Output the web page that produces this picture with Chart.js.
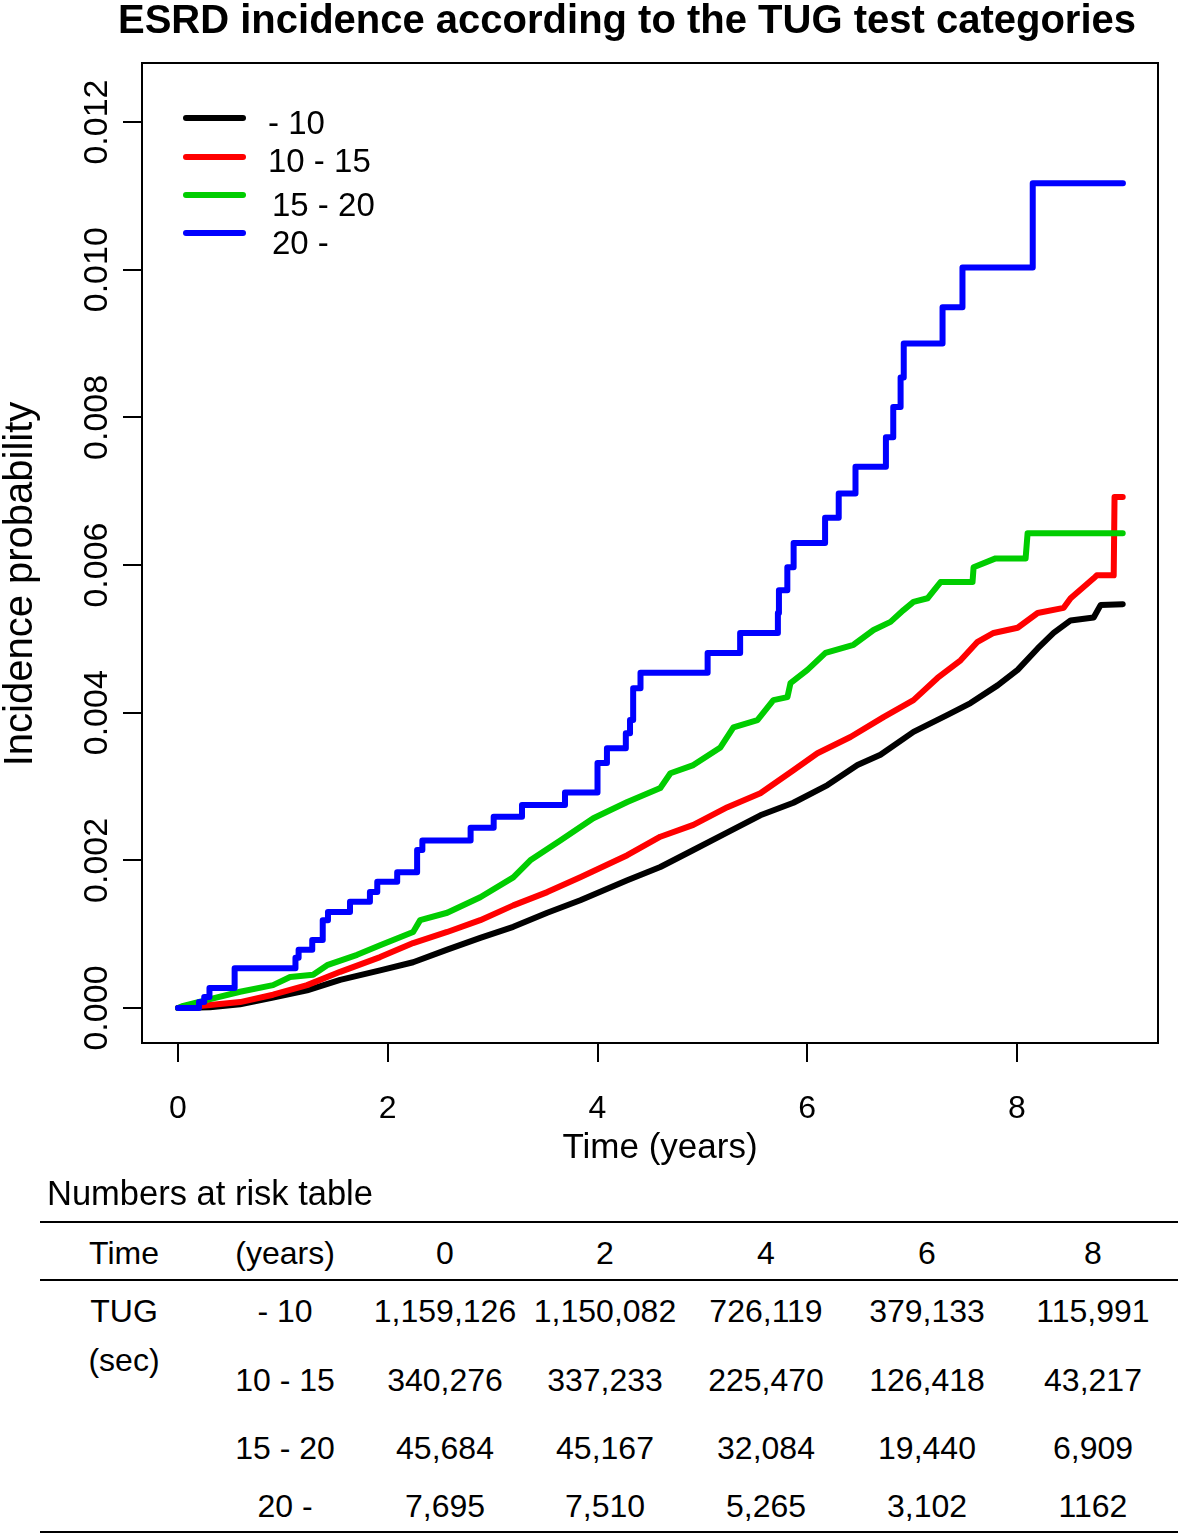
<!DOCTYPE html>
<html>
<head>
<meta charset="utf-8">
<title>ESRD incidence according to the TUG test categories</title>
<script src="https://cdn.jsdelivr.net/npm/chart.js@4.4.1/dist/chart.umd.min.js"></script>
<style>
  body { margin: 0; background: #fff; font-family: "Liberation Sans", Arial, Helvetica, sans-serif; color: #000; }
  #page { position: relative; width: 1181px; height: 1537px; overflow: hidden; }
  #chartTitle { position: absolute; left: 0; top: -1px; width: 1254px; text-align: center; font-weight: bold; font-size: 40px; line-height: 40px; white-space: nowrap; }
  canvas { position: absolute; left: 0; top: 0; }
  .cell { position: absolute; transform: translate(-50%, -50%); font-size: 32px; line-height: 32px; white-space: nowrap; }
  .rule { position: absolute; left: 40px; width: 1138px; height: 0; border-top: 2px solid #000; }
  #riskTitle { position: absolute; left: 47px; top: 1176px; font-size: 34.5px; line-height: 34.5px; white-space: nowrap; }
</style>
</head>
<body>
<div id="page">
  <canvas id="incidenceChart" width="1181" height="1175"></canvas>
  <div id="chartTitle">ESRD incidence according to the TUG test categories</div>
  <div id="riskTitle">Numbers at risk table</div>
  <div id="riskTable"></div>
</div>
<script>
// Data
const tugGroups = ["- 10", "10 - 15", "15 - 20", "20 -"]
const groupColors = ["#000000", "#ff0000", "#00cd00", "#0000ff"]

const xTicks = [0, 2, 4, 6, 8]
const yTicks = [0, 0.002, 0.004, 0.006, 0.008, 0.01, 0.012]

// TUG - 10
const timeG1 = [0, 0.305, 0.592, 0.906, 1.231, 1.546, 1.927, 2.242, 2.567, 2.882, 3.197, 3.521, 3.836, 4.284, 4.599, 4.914, 5.239, 5.553, 5.868, 6.193, 6.479, 6.698, 7.013, 7.338, 7.557, 7.815, 8.006, 8.197, 8.349, 8.511, 8.731, 8.798, 9.008]
const probG1 = [0, 0.00001, 0.00005, 0.00014, 0.00024, 0.00038, 0.00051, 0.00062, 0.00079, 0.00095, 0.0011, 0.00129, 0.00146, 0.00173, 0.00191, 0.00214, 0.00238, 0.00261, 0.00278, 0.00302, 0.00329, 0.00343, 0.00374, 0.00397, 0.00413, 0.00437, 0.00458, 0.00487, 0.00508, 0.00525, 0.00529, 0.00546, 0.00547]

// TUG 10 - 15
const timeG2 = [0, 0.305, 0.592, 0.906, 1.231, 1.546, 1.927, 2.242, 2.567, 2.882, 3.197, 3.521, 3.836, 4.284, 4.599, 4.914, 5.239, 5.553, 5.868, 6.097, 6.412, 6.727, 7.013, 7.242, 7.462, 7.624, 7.777, 8.006, 8.197, 8.445, 8.511, 8.731, 8.76, 8.922, 8.93, 9.008]
const probG2 = [0, 0.00004, 0.00008, 0.00018, 0.00031, 0.00049, 0.00069, 0.00088, 0.00103, 0.00119, 0.00139, 0.00157, 0.00177, 0.00207, 0.00232, 0.00248, 0.00272, 0.00291, 0.00322, 0.00345, 0.00367, 0.00394, 0.00417, 0.00447, 0.00471, 0.00496, 0.00508, 0.00515, 0.00535, 0.00542, 0.00555, 0.00582, 0.00586, 0.00586, 0.00692, 0.00692]

// TUG 15 - 20
const timeG3 = [0, 0.05, 0.277, 0.592, 0.906, 1.069, 1.288, 1.422, 1.708, 1.927, 2.242, 2.309, 2.567, 2.882, 3.197, 3.359, 3.645, 3.96, 4.284, 4.599, 4.695, 4.914, 5.172, 5.296, 5.525, 5.677, 5.811, 5.84, 6.002, 6.174, 6.441, 6.632, 6.794, 6.918, 7.013, 7.147, 7.271, 7.576, 7.586, 7.796, 8.082, 8.101, 9.008]
const probG3 = [0, 0.00003, 0.00011, 0.00022, 0.00031, 0.00042, 0.00045, 0.00058, 0.00072, 0.00085, 0.00103, 0.00119, 0.00129, 0.0015, 0.00177, 0.002, 0.00227, 0.00257, 0.00279, 0.00298, 0.00318, 0.00329, 0.00353, 0.0038, 0.0039, 0.00417, 0.00421, 0.0044, 0.00458, 0.00481, 0.00492, 0.00512, 0.00523, 0.00539, 0.0055, 0.00555, 0.00577, 0.00577, 0.00597, 0.00609, 0.00609, 0.00643, 0.00643]

// TUG 20 - (step function, value holds until next time)
const timeG4 = [0, 0.2, 0.25, 0.3, 0.54, 1.12, 1.15, 1.28, 1.38, 1.43, 1.64, 1.83, 1.9, 2.09, 2.28, 2.33, 2.79, 3.01, 3.28, 3.69, 4.0, 4.09, 4.27, 4.31, 4.34, 4.41, 5.05, 5.36, 5.72, 5.73, 5.81, 5.87, 6.17, 6.3, 6.46, 6.75, 6.82, 6.89, 6.92, 7.29, 7.48, 8.15, 9.01]
const probG4 = [0, 0.00008, 0.00015, 0.00027, 0.00054, 0.00068, 0.00079, 0.00092, 0.00119, 0.0013, 0.00144, 0.00157, 0.00171, 0.00184, 0.00214, 0.00227, 0.00244, 0.00259, 0.00275, 0.00292, 0.00332, 0.00352, 0.00372, 0.0039, 0.00433, 0.00454, 0.00481, 0.00508, 0.00535, 0.00566, 0.00597, 0.0063, 0.00664, 0.00697, 0.00733, 0.00773, 0.00814, 0.00854, 0.009, 0.00949, 0.01003, 0.01117, 0.01117]

// Numbers at risk
const riskTimes = ["0", "2", "4", "6", "8"]
const riskG1 = ["1,159,126", "1,150,082", "726,119", "379,133", "115,991"]
const riskG2 = ["340,276", "337,233", "225,470", "126,418", "43,217"]
const riskG3 = ["45,684", "45,167", "32,084", "19,440", "6,909"]
const riskG4 = ["7,695", "7,510", "5,265", "3,102", "1162"]

const fontFamily = "'Liberation Sans', Arial, Helvetica, sans-serif"

function toPoints(times, probs) {
  return times.map((t, i) => ({ x: t, y: probs[i] }))
}

// Box, rotated y labels, axis titles and legend
const decorPlugin = {
  id: "decor",
  afterDraw(chart) {
    const { ctx, chartArea, scales } = chart
    ctx.save()
    ctx.strokeStyle = "#000"
    ctx.lineWidth = 2
    ctx.strokeRect(chartArea.left, chartArea.top, chartArea.right - chartArea.left, chartArea.bottom - chartArea.top)

    ctx.fillStyle = "#000"
    ctx.textAlign = "center"
    ctx.textBaseline = "alphabetic"

    // y tick labels, rotated like base R
    ctx.font = `34px ${fontFamily}`
    yTicks.forEach((v) => {
      const py = scales.y.getPixelForValue(v)
      ctx.save()
      ctx.translate(107, py)
      ctx.rotate(-Math.PI / 2)
      ctx.fillText(v.toFixed(3), 0, 0)
      ctx.restore()
    })

    // y axis title
    ctx.font = `40px ${fontFamily}`
    ctx.save()
    ctx.translate(32, 584)
    ctx.rotate(-Math.PI / 2)
    ctx.fillText("Incidence probability", 0, 0)
    ctx.restore()

    // x axis title
    ctx.font = `35px ${fontFamily}`
    ctx.fillText("Time (years)", 660, 1158)

    // legend
    ctx.textAlign = "left"
    ctx.textBaseline = "middle"
    ctx.font = `33px ${fontFamily}`
    ctx.lineCap = "round"
    ctx.lineWidth = 6
    const lineY = [118, 157, 195, 233]
    const textY = [125, 163, 207, 245]
    const textX = [268, 268, 272, 272]
    chart.data.datasets.forEach((ds, i) => {
      ctx.strokeStyle = ds.borderColor
      ctx.beginPath()
      ctx.moveTo(186, lineY[i])
      ctx.lineTo(243, lineY[i])
      ctx.stroke()
      ctx.fillText(ds.label, textX[i], textY[i])
    })
    ctx.restore()
  },
}

// Chart Configuration
const ctx = document.getElementById("incidenceChart").getContext("2d")

const seriesTimes = [timeG1, timeG2, timeG3, timeG4]
const seriesProbs = [probG1, probG2, probG3, probG4]

const incidenceChart = new Chart(ctx, {
  type: "line",
  data: {
    datasets: tugGroups.map((label, i) => ({
      label: label,
      data: toPoints(seriesTimes[i], seriesProbs[i]),
      borderColor: groupColors[i],
      borderWidth: 6,
      pointRadius: 0,
      tension: 0,
      stepped: i === 3 ? "before" : false,
      borderCapStyle: "round",
      borderJoinStyle: "round",
      fill: false,
      order: 3 - i,
    })),
  },
  options: {
    responsive: false,
    animation: false,
    events: [],
    layout: {
      padding: { left: 0, right: 23, top: 63, bottom: 0 },
    },
    plugins: {
      legend: { display: false },
      tooltip: { enabled: false },
      title: { display: false },
    },
    scales: {
      x: {
        type: "linear",
        min: -0.3433,
        max: 9.3444,
        afterBuildTicks: (scale) => {
          scale.ticks = xTicks.map((v) => ({ value: v }))
        },
        afterFit: (scale) => {
          scale.height = 132
        },
        border: { display: false },
        grid: {
          drawOnChartArea: false,
          drawTicks: true,
          tickLength: 19,
          color: "#000",
          lineWidth: 2,
        },
        ticks: {
          color: "#000",
          padding: 28,
          maxRotation: 0,
          autoSkip: false,
          font: { family: fontFamily, size: 32 },
        },
      },
      y: {
        type: "linear",
        min: -0.000474,
        max: 0.0128,
        afterBuildTicks: (scale) => {
          scale.ticks = yTicks.map((v) => ({ value: v }))
        },
        afterFit: (scale) => {
          scale.width = 142
        },
        border: { display: false },
        grid: {
          drawOnChartArea: false,
          drawTicks: true,
          tickLength: 19,
          color: "#000",
          lineWidth: 2,
        },
        ticks: { display: false },
      },
    },
  },
  plugins: [decorPlugin],
})

// Numbers at risk table
const table = document.getElementById("riskTable")
const colX = [124, 285, 445, 605, 766, 927, 1093]
const rowY = [1311, 1380, 1448, 1506]

function addCell(text, x, y) {
  const el = document.createElement("div")
  el.className = "cell"
  el.textContent = text
  el.style.left = x + "px"
  el.style.top = y + "px"
  table.appendChild(el)
}

function addRule(y) {
  const el = document.createElement("div")
  el.className = "rule"
  el.style.top = y - 1 + "px"
  table.appendChild(el)
}

addRule(1222)
addRule(1280)
addRule(1532)

addCell("Time", colX[0], 1253)
addCell("(years)", colX[1], 1253)
riskTimes.forEach((t, i) => addCell(t, colX[i + 2], 1253))

addCell("TUG", colX[0], 1311)
addCell("(sec)", colX[0], 1360)

const riskRows = [riskG1, riskG2, riskG3, riskG4]
riskRows.forEach((row, r) => {
  addCell(tugGroups[r], colX[1], rowY[r])
  row.forEach((n, i) => addCell(n, colX[i + 2], rowY[r]))
})
</script>
</body>
</html>
